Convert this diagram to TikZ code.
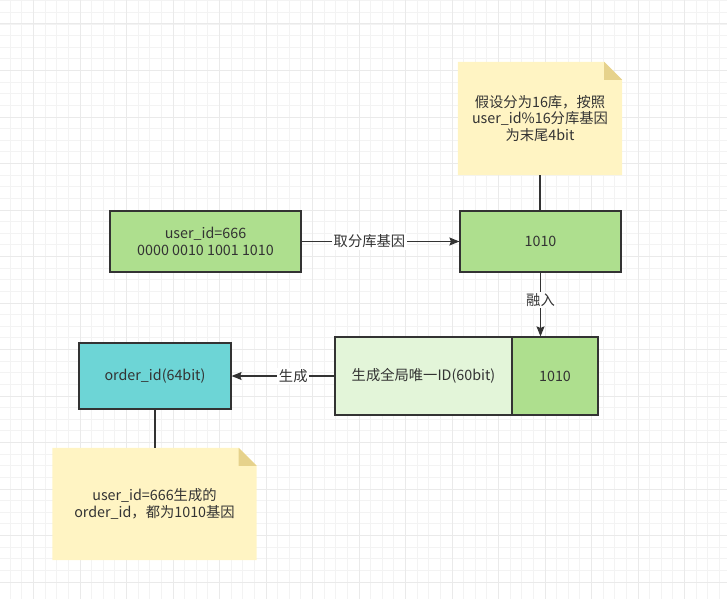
\documentclass[tikz,border=0pt]{standalone}
\usepackage{fontspec}
\setmainfont{Noto Sans CJK SC}
\usetikzlibrary{arrows.meta,calc,backgrounds}

\definecolor{inkc}{HTML}{333333}
\definecolor{gridminor}{HTML}{F3F3F3}
\definecolor{gridmajor}{HTML}{EAEAEA}
\definecolor{genegreen}{HTML}{AEDF8E}
\definecolor{palegreen}{HTML}{E3F5D9}
\definecolor{ordercyan}{HTML}{6DD5D6}
\definecolor{notebg}{HTML}{FFF4C3}
\definecolor{notefold}{HTML}{E6D28C}

\tikzset{
  box/.style={draw=inkc, line width=1.2pt, text=inkc, align=center, inner sep=0pt},
  note/.style={text=inkc, align=center, inner sep=0pt},
  link/.style={draw=inkc, line width=1.2pt},
  arrowlink/.style={link, -{Stealth[length=10pt,width=8pt,inset=1.5pt]}},
  tag/.style={fill=white, text=inkc, inner sep=1.5pt},
}
\newcommand{\notepaper}[1]{%
  \fill[notebg] (#1.north west) -- ($(#1.north east)+(-18,0)$) -- ($(#1.north east)+(0,18)$) -- (#1.south east) -- (#1.south west) -- cycle;
  \fill[notefold] ($(#1.north east)+(-18,0)$) -- ($(#1.north east)+(-18,18)$) -- ($(#1.north east)+(0,18)$) -- cycle;}

\begin{document}
\begin{tikzpicture}[x=1pt, y=-1pt, font=\fontsize{14.3}{16.8}\selectfont]
	\useasboundingbox (0,0) rectangle (727,599);
	\node[note, minimum width=164, minimum height=113] (hint) at (540,118.5) {假设分为16库，按照\\user\_id\%16分库基因\\为末尾4bit};
	\node[box, fill=genegreen, minimum width=191, minimum height=61] (user) at (205.5,241.5) {user\_id=666\\0000 0010 1001 1010};
	\node[box, fill=genegreen, minimum width=161, minimum height=61] (gene) at (540.5,241.5) {1010};
	\node[box, fill=palegreen, minimum width=177, minimum height=78] (global) at (423.5,376) {生成全局唯一ID(60bit)};
	\node[box, fill=genegreen, minimum width=86, minimum height=78] (tail) at (555,376) {1010};
	\node[box, fill=ordercyan, minimum width=152, minimum height=66] (order) at (155,376) {order\_id(64bit)};
	\node[note, minimum width=204, minimum height=112] (tip) at (154.5,504) {user\_id=666生成的\\order\_id，都为1010基因};
	\begin{scope}[on background layer]
		\foreach \i in {2,...,63} {\draw[gridminor, line width=0.8pt] ({-13+11.625*\i},0) -- ++(0,599);}
		\foreach \i in {2,...,52} {\draw[gridminor, line width=0.8pt] (0,{-22.5+11.625*\i}) -- ++(727,0);}
		\foreach \i in {1,...,16} {\draw[gridmajor, line width=1pt] ({-13+46.5*\i},0) -- ++(0,599);}
		\foreach \i in {1,...,13} {\draw[gridmajor, line width=1pt] (0,{-22.5+46.5*\i}) -- ++(727,0);}
		\notepaper{hint}
		\notepaper{tip}
	\end{scope}
	\draw[link] (hint.south) -- (hint.south |- gene.north);
	\draw[arrowlink] (user.east) -- node[tag, pos=0.43] {取分库基因} (gene.west);
	\draw[arrowlink] (gene.south) -- node[tag, pos=0.43] {融入} (gene.south |- tail.north);
	\draw[arrowlink] (global.west) -- node[tag, pos=0.4] {生成} (order.east);
	\draw[link] (order.south) -- (order.south |- tip.north);
\end{tikzpicture}
\end{document}
